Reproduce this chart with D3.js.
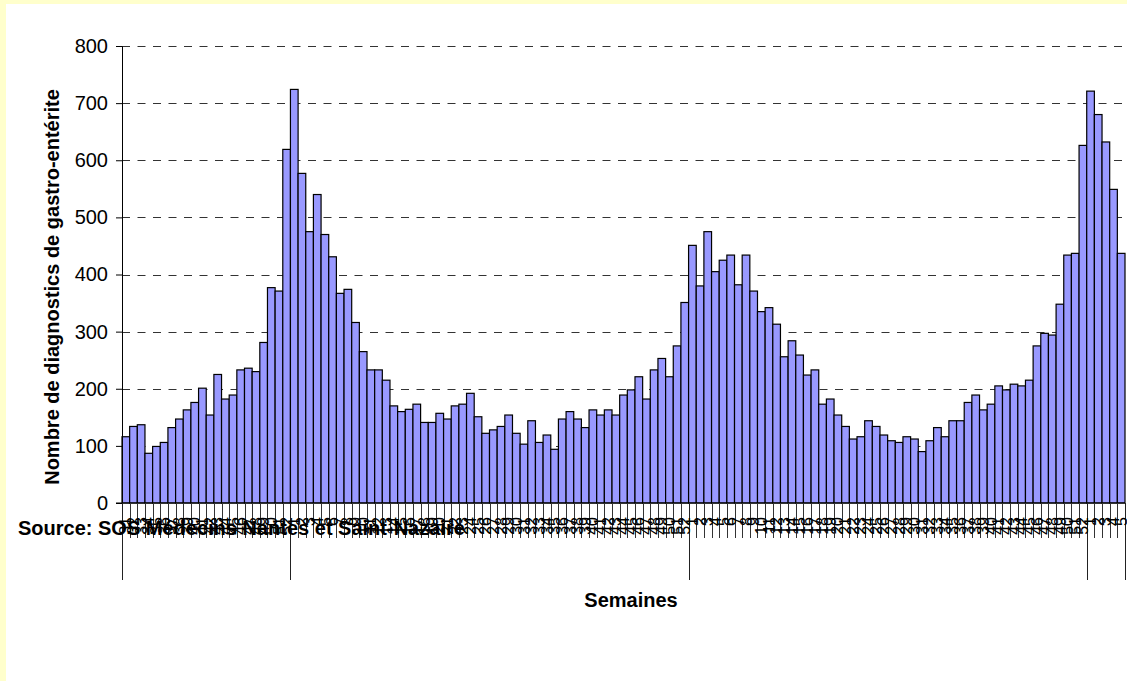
<!DOCTYPE html>
<html>
<head>
<meta charset="utf-8">
<script src="https://cdn.jsdelivr.net/npm/d3@7"></script>
<style>
  body { margin: 0; background: #FFFFCC; }
  svg { display: block; font-family: "Liberation Sans", Arial, sans-serif; }
</style>
</head>
<body>
<div id="chart"></div>
<script>
// weekly counts, four seasons (weeks 31-52, 1-52, 1-52, 1-5)
const weeksA = [31,32,33,34,35,36,37,38,39,40,41,42,43,44,45,46,47,48,49,50,51,52];
const valsA = [116,134,137,87,99,106,132,147,163,176,201,154,225,182,189,233,236,230,281,377,371,619];

const weeksB = [1,2,3,4,5,6,7,8,9,10,11,12,13,14,15,16,17,18,19,20,21,22,23,24,25,26,
  27,28,29,30,31,32,33,34,35,36,37,38,39,40,41,42,43,44,45,46,47,48,49,50,51,52];
const valsB = [724,577,475,540,470,431,367,374,316,265,233,233,215,170,160,164,173,141,141,157,147,170,173,192,151,122,
  128,134,154,122,103,144,106,119,94,147,160,147,132,163,154,163,154,189,198,221,182,233,253,221,275,351];

const weeksC = [1,2,3,4,5,6,7,8,9,10,11,12,13,14,15,16,17,18,19,20,21,22,23,24,25,26,
  27,28,29,30,31,32,33,34,35,36,37,38,39,40,41,42,43,44,45,46,47,48,49,50,51,52];
const valsC = [451,380,475,405,425,434,382,434,371,335,342,313,256,284,259,224,233,173,182,154,134,112,116,144,134,119,
  109,106,116,112,90,109,132,116,144,144,176,189,163,173,205,198,208,205,215,275,297,294,348,434,437,626];

const weeksD = [1,2,3,4,5];
const valsD = [721,680,632,549,437];

const yTicks = [0,100,200,300,400,500,600,700,800];

const W = 1127, H = 681;
const marg = { left: 122, top: 46, right: 2, bot: 178 };
const font = 20;

let rows = [];
[[weeksA, valsA], [weeksB, valsB], [weeksC, valsC], [weeksD, valsD]].forEach((s, g) => {
	s[0].forEach((w, i) => rows.push({ grp: g, wk: w, val: s[1][i] }));
});
// first index of each season + end
let bounds = [0];
for (let i = 1; i < rows.length; i++) if (rows[i].grp != rows[i - 1].grp) bounds.push(i);
bounds.push(rows.length);

const svg = d3.select('#chart').append('svg').attr('width', W).attr('height', H);

svg.append('rect').attr('x', 6).attr('y', 4).attr('width', W - 6).attr('height', H - 4).attr('fill', '#fff');

const x = d3.scaleBand().domain(d3.range(rows.length)).range([marg.left, W - marg.right]).padding(0);
const y = d3.scaleLinear().domain([0, 800]).range([H - marg.bot, marg.top]);
const xEdge = (i) => i < rows.length ? x(i) : x(rows.length - 1) + x.bandwidth();

// grid
svg.append('g')
	.selectAll('line')
	.data(yTicks.filter(d => d > 0))
	.enter()
	.append('line')
	.attr('x1', marg.left).attr('x2', W - marg.right)
	.attr('y1', d => Math.round(y(d)) + 0.5).attr('y2', d => Math.round(y(d)) + 0.5)
	.attr('stroke', '#333').attr('stroke-width', 1).attr('stroke-dasharray', '8,7.5');

// bars
svg.append('g')
	.selectAll('rect')
	.data(rows)
	.enter()
	.append('rect')
	.attr('x', (d, i) => x(i))
	.attr('y', d => y(d.val))
	.attr('width', x.bandwidth())
	.attr('height', d => y(0) - y(d.val))
	.attr('fill', '#9999FF')
	.attr('stroke', '#000')
	.attr('stroke-width', 1.2);

// y axis
const yAxis = d3.axisLeft(y).tickValues(yTicks).tickSize(6).tickPadding(8);
const ya = svg.append('g').attr('transform', 'translate(' + marg.left + ',0)').call(yAxis);
ya.select('.domain').attr('stroke', '#000');
ya.selectAll('text')
	.attr('font-size', font)
	.attr('font-weight', 'normal')
	.attr('font-family', '"Liberation Sans", Arial, sans-serif')
	.attr('fill', '#000');

// x axis base line
svg.append('line')
	.attr('x1', marg.left - 6).attr('x2', W - marg.right)
	.attr('y1', y(0)).attr('y2', y(0))
	.attr('stroke', '#000');

// week ticks
svg.append('g')
	.selectAll('line')
	.data(d3.range(rows.length + 1))
	.enter()
	.append('line')
	.attr('x1', i => Math.round(xEdge(i)) + 0.5).attr('x2', i => Math.round(xEdge(i)) + 0.5)
	.attr('y1', y(0)).attr('y2', y(0) + 35)
	.attr('stroke', '#333').attr('stroke-width', 1);

// season separators
svg.append('g')
	.selectAll('line')
	.data(bounds)
	.enter()
	.append('line')
	.attr('x1', i => Math.round(xEdge(i)) + 0.5).attr('x2', i => Math.round(xEdge(i)) + 0.5)
	.attr('y1', y(0)).attr('y2', y(0) + 77)
	.attr('stroke', '#222').attr('stroke-width', 1);

// source note (sits under the crowded labels)
svg.append('text')
	.attr('x', 18).attr('y', 535)
	.attr('font-size', font).attr('font-weight', 'bold')
	.text('Source: SOS Médecins Nantes et Saint-Nazaire');

// week labels, rotated
svg.append('g')
	.selectAll('text')
	.data(rows)
	.enter()
	.append('text')
	.attr('transform', (d, i) => 'translate(' + (x(i) + x.bandwidth() / 2) + ',' + (y(0) + 14) + ') rotate(-90)')
	.attr('text-anchor', 'end')
	.attr('dy', '0.35em')
	.attr('font-size', 16)
	.text(d => d.wk);

// axis titles
svg.append('text')
	.attr('transform', 'translate(59,287) rotate(-90)')
	.attr('text-anchor', 'middle')
	.attr('font-size', font).attr('font-weight', 'bold')
	.text('Nombre de diagnostics de gastro-entérite');

svg.append('text')
	.attr('x', 631).attr('y', 607)
	.attr('text-anchor', 'middle')
	.attr('font-size', font).attr('font-weight', 'bold')
	.text('Semaines');
</script>
</body>
</html>
